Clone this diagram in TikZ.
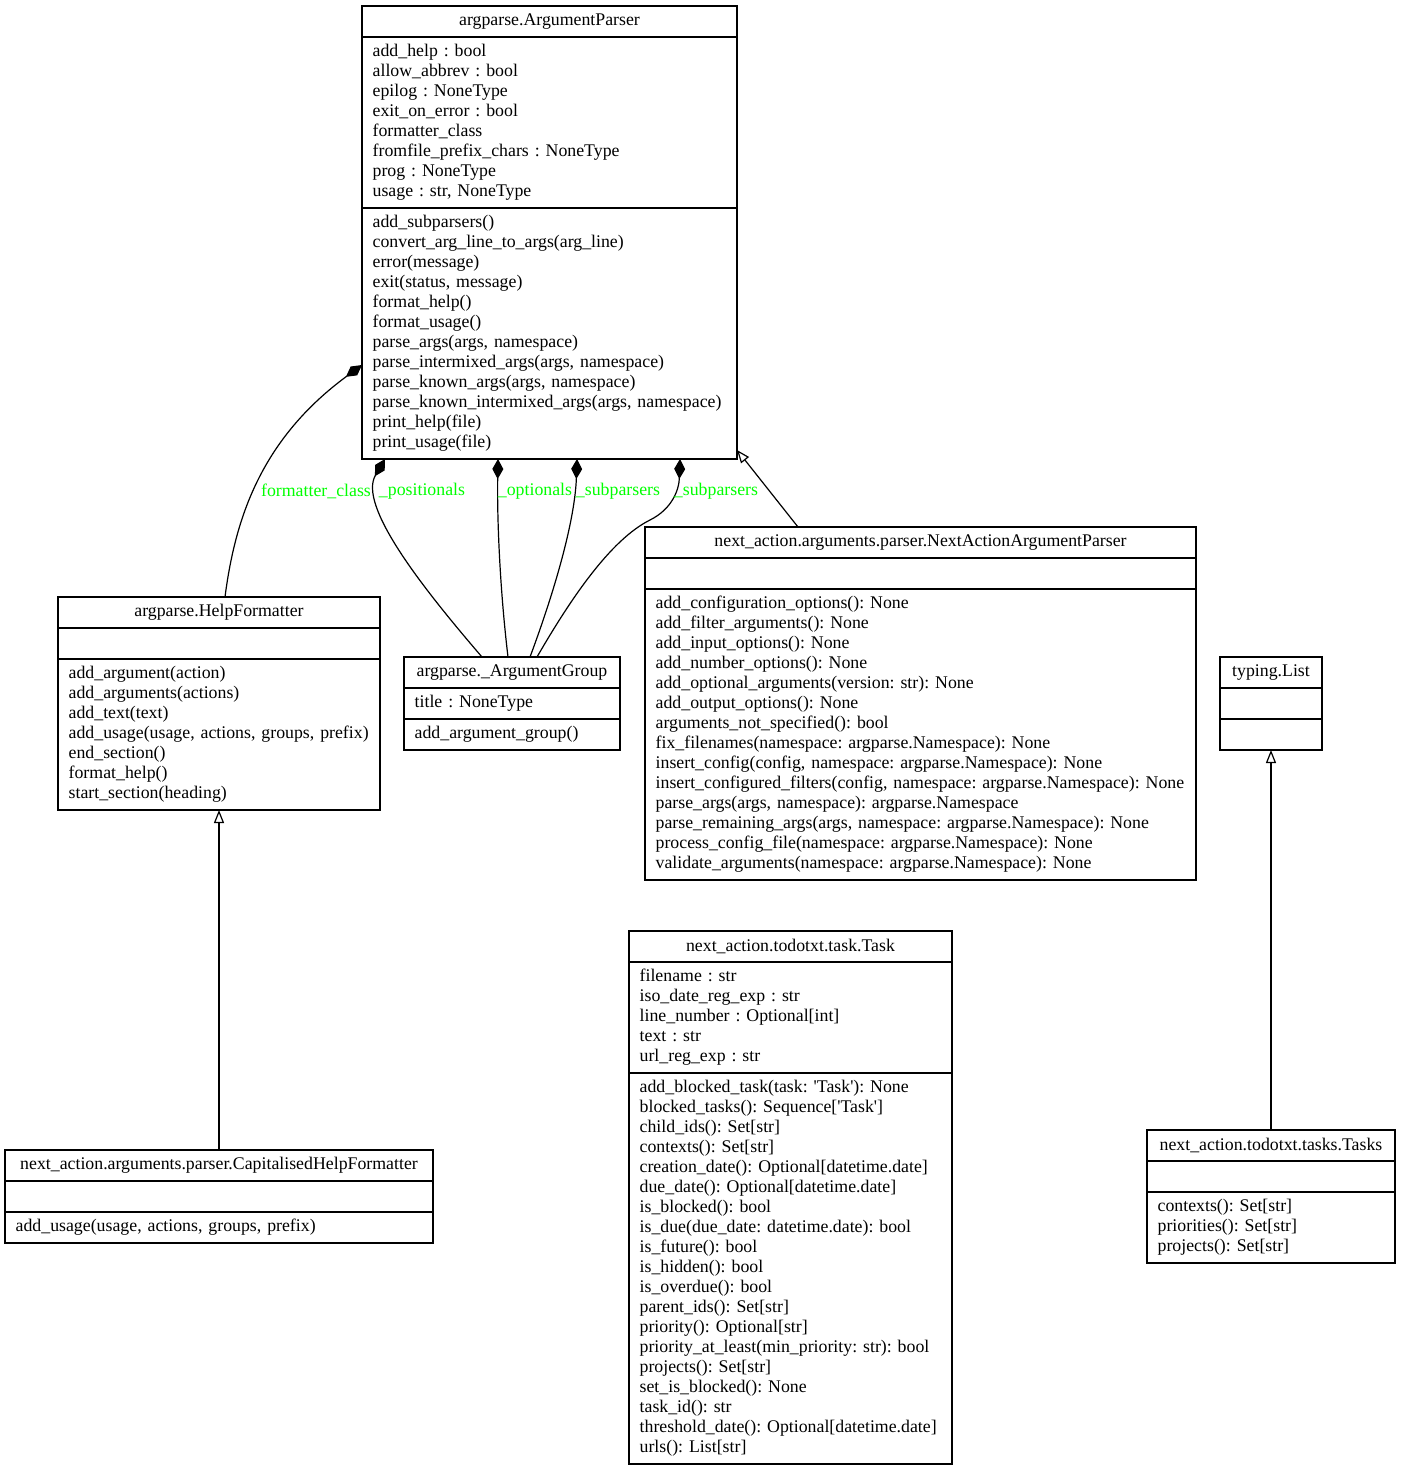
\documentclass[tikz,border=0pt]{standalone}
\usepackage{fontspec}
\setmainfont{Liberation Serif}
\usepackage{tikz}
\usetikzlibrary{arrows.meta, positioning, calc}
\frenchspacing

\newcommand{\members}[1]{\begin{tabular}{@{}l@{}}#1\end{tabular}}

\begin{document}
\begin{tikzpicture}[x=0.5pt, y=-0.5pt, line width=0.6pt,
            font=\fontsize{8.9}{10}\selectfont,
            comp/.style={-{Diamond[length=10pt,width=5.5pt]}},
            inh/.style={-{Triangle[open,length=6.5pt,width=5pt]}}]
             \useasboundingbox (0,0) rectangle (1401,1469);

             \tikzstyle{head} = [draw, anchor=north, outer sep=0pt, inner sep=0pt, minimum width=#1, minimum height=15.5pt]
             \tikzstyle{sec} = [draw, outer sep=0pt, inner xsep=5.33pt, inner ysep=0pt, align=left, text width=#1]
             \tikzstyle{elabel} = [text=green, inner sep=0pt]

             % argparse.ArgumentParser
             \node [head=187.5pt] at (549.5,6) (parserT) {argparse.ArgumentParser};
             \node [sec=176.84pt, minimum height=85.5pt, below=0pt of parserT] (parserA) {\members{add\_help : bool\\ allow\_abbrev : bool\\ epilog : NoneType\\ exit\_on\_error : bool\\ formatter\_class\\ fromfile\_prefix\_chars : NoneType\\ prog : NoneType\\ usage : str, NoneType}};
             \node [sec=176.84pt, minimum height=125.5pt, below=0pt of parserA] (parserM) {\members{add\_subparsers()\\ convert\_arg\_line\_to\_args(arg\_line)\\ error(message)\\ exit(status, message)\\ format\_help()\\ format\_usage()\\ parse\_args(args, namespace)\\ parse\_intermixed\_args(args, namespace)\\ parse\_known\_args(args, namespace)\\ parse\_known\_intermixed\_args(args, namespace)\\ print\_help(file)\\ print\_usage(file)}};

             % argparse.HelpFormatter
             \node [head=161pt] at (219,597) (helpT) {argparse.HelpFormatter};
             \node [sec=150.34pt, minimum height=15.5pt, below=0pt of helpT] (helpA) {\members{}};
             \node [sec=150.34pt, minimum height=75.5pt, below=0pt of helpA] (helpM) {\members{add\_argument(action)\\ add\_arguments(actions)\\ add\_text(text)\\ add\_usage(usage, actions, groups, prefix)\\ end\_section()\\ format\_help()\\ start\_section(heading)}};

             % argparse._ArgumentGroup
             \node [head=108pt] at (512,657) (groupT) {argparse.\_ArgumentGroup};
             \node [sec=97.34pt, minimum height=15.5pt, below=0pt of groupT] (groupA) {\members{title : NoneType}};
             \node [sec=97.34pt, minimum height=15.5pt, below=0pt of groupA] (groupM) {\members{add\_argument\_group()}};

             % NextActionArgumentParser
             \node [head=275.5pt] at (920.5,527) (nextT) {next\_action.arguments.parser.NextActionArgumentParser};
             \node [sec=264.84pt, minimum height=15.5pt, below=0pt of nextT] (nextA) {\members{}};
             \node [sec=264.84pt, minimum height=145.5pt, below=0pt of nextA] (nextM) {\members{add\_configuration\_options(): None\\ add\_filter\_arguments(): None\\ add\_input\_options(): None\\ add\_number\_options(): None\\ add\_optional\_arguments(version: str): None\\ add\_output\_options(): None\\ arguments\_not\_specified(): bool\\ fix\_filenames(namespace: argparse.Namespace): None\\ insert\_config(config, namespace: argparse.Namespace): None\\ insert\_configured\_filters(config, namespace: argparse.Namespace): None\\ parse\_args(args, namespace): argparse.Namespace\\ parse\_remaining\_args(args, namespace: argparse.Namespace): None\\ process\_config\_file(namespace: argparse.Namespace): None\\ validate\_arguments(namespace: argparse.Namespace): None}};

             % typing.List
             \node [head=51pt] at (1271,657) (listT) {typing.List};
             \node [sec=40.34pt, minimum height=15.5pt, below=0pt of listT] (listA) {\members{}};
             \node [sec=40.34pt, minimum height=15.5pt, below=0pt of listA] (listM) {\members{}};

             % next_action.todotxt.task.Task
             \node [head=161.5pt] at (790.5,931) (taskT) {next\_action.todotxt.task.Task};
             \node [sec=150.84pt, minimum height=55.5pt, below=0pt of taskT] (taskA) {\members{filename : str\\ iso\_date\_reg\_exp : str\\ line\_number : Optional[int]\\ text : str\\ url\_reg\_exp : str}};
             \node [sec=150.84pt, minimum height=195.5pt, below=0pt of taskA] (taskM) {\members{add\_blocked\_task(task: \textquotesingle Task\textquotesingle): None\\ blocked\_tasks(): Sequence[\textquotesingle Task\textquotesingle]\\ child\_ids(): Set[str]\\ contexts(): Set[str]\\ creation\_date(): Optional[datetime.date]\\ due\_date(): Optional[datetime.date]\\ is\_blocked(): bool\\ is\_due(due\_date: datetime.date): bool\\ is\_future(): bool\\ is\_hidden(): bool\\ is\_overdue(): bool\\ parent\_ids(): Set[str]\\ priority(): Optional[str]\\ priority\_at\_least(min\_priority: str): bool\\ projects(): Set[str]\\ set\_is\_blocked(): None\\ task\_id(): str\\ threshold\_date(): Optional[datetime.date]\\ urls(): List[str]}};

             % next_action.todotxt.tasks.Tasks
             \node [head=124pt] at (1271,1130) (tasksT) {next\_action.todotxt.tasks.Tasks};
             \node [sec=113.34pt, minimum height=15.5pt, below=0pt of tasksT] (tasksA) {\members{}};
             \node [sec=113.34pt, minimum height=35.5pt, below=0pt of tasksA] (tasksM) {\members{contexts(): Set[str]\\ priorities(): Set[str]\\ projects(): Set[str]}};

             % CapitalisedHelpFormatter
             \node [head=214pt] at (219,1150) (capT) {next\_action.arguments.parser.CapitalisedHelpFormatter};
             \node [sec=203.34pt, minimum height=15.5pt, below=0pt of capT] (capA) {\members{}};
             \node [sec=203.34pt, minimum height=15.5pt, below=0pt of capA] (capM) {\members{add\_usage(usage, actions, groups, prefix)}};

             % composition edges
             \draw [comp] ([xshift=3pt]helpT.north) .. controls (235,520) and (260,440) .. ([yshift=-15.75pt]parserM.west);
             \draw [comp] ([xshift=-15pt]groupT.north) .. controls (420,585) and (358,505) .. ([xshift=-82.25pt]parserM.south);
             \draw [comp] ([xshift=-2pt]groupT.north) .. controls (500,590) and (497,520) .. ([xshift=-25.75pt]parserM.south);
             \draw [comp] ([xshift=9pt]groupT.north) .. controls (555,590) and (575,520) .. ([xshift=13.75pt]parserM.south);
             \draw [comp] ([xshift=12.5pt]groupT.north) .. controls (570,600) and (610,540) .. (650,520) .. controls (672,509) and (679,490) .. ([xshift=65.25pt]parserM.south);

             \node [elabel] at (316,491) (lfmt) {formatter\_class};
             \node [elabel] at (422,491) (lpos) {\_positionals};
             \node [elabel] at (535,491) (lopt) {\_optionals};
             \node [elabel] at (618,491) (lsub) {\_subparsers};
             \node [elabel] at (716,491) (lsubb) {\_subparsers};

             % inheritance edges
             \draw [inh] ([xshift=-61.25pt]nextT.north) -- ([yshift=4.5pt]parserM.south east);
             \draw [inh] (capT.north) -- (helpM.south);
             \draw [inh] (tasksT.north) -- (listM.south);
         \end{tikzpicture}
\end{document}
